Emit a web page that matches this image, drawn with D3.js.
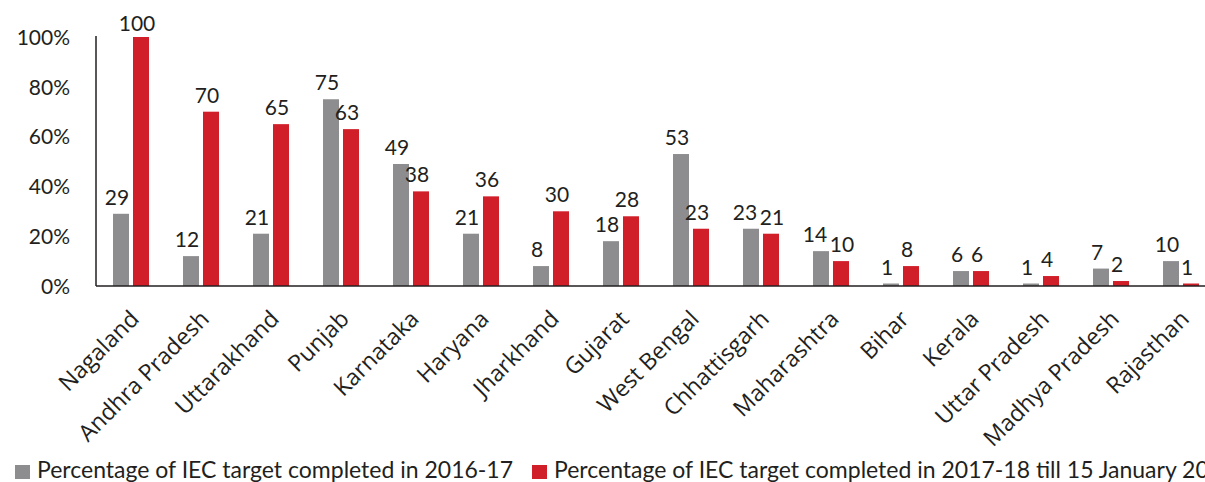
<!DOCTYPE html>
<html>
<head>
<meta charset="utf-8">
<script src="https://cdn.jsdelivr.net/npm/d3@7"></script>
<style>
  body { margin: 0; background: #fff; }
  text { font-family: Lato, "Open Sans", sans-serif; fill: #231f20; }
</style>
</head>
<body>
<svg id="chart"></svg>
<script>
// data
var states = ["Nagaland", "Andhra Pradesh", "Uttarakhand", "Punjab", "Karnataka", "Haryana",
    "Jharkhand", "Gujarat", "West Bengal", "Chhattisgarh", "Maharashtra", "Bihar",
    "Kerala", "Uttar Pradesh", "Madhya Pradesh", "Rajasthan"];
var done2016 = [29, 12, 21, 75, 49, 21, 8, 18, 53, 23, 14, 1, 6, 1, 7, 10];
var done2017 = [100, 70, 65, 63, 38, 36, 30, 28, 23, 21, 10, 8, 6, 4, 2, 1];
var yTicks = [0, 20, 40, 60, 80, 100];
var seriesNames = ["Percentage of IEC target completed in 2016-17",
    "Percentage of IEC target completed in 2017-18 till 15 January 2018"];
var colors = ["#8d8d8f", "#d11f2a"];

var width = 1205, height = 482;
var margin = {left: 96, top: 37, bottom: 286, right: 1216};

var svg = d3.select('#chart')
    .attr('width', width)
    .attr('height', height);

var x0 = d3.scaleBand().domain(states).range([margin.left, margin.right]).padding(0);
var x1 = d3.scaleBand().domain([0, 1]).range([17, 53]).paddingInner(0.2).paddingOuter(0);
var y = d3.scaleLinear().domain([0, 100]).range([margin.bottom, margin.top]);

// y axis labels
var yAxis = d3.axisLeft(y).tickValues(yTicks).tickSize(0).tickPadding(26)
    .tickFormat(function(d) { return d + '%'; });
var gy = svg.append('g')
    .attr('transform', 'translate(' + margin.left + ',0)')
    .call(yAxis);
gy.select('.domain').remove();
gy.selectAll('text').style('font-size', '21px').attr('dy', '0.35em');

// bars
var rows = states.map(function(s, i) { return {state: s, vals: [done2016[i], done2017[i]]}; });

var groups = svg.selectAll('.grp')
    .data(rows)
    .enter().append('g')
    .attr('class', 'grp')
    .attr('transform', function(d) { return 'translate(' + x0(d.state) + ',0)'; });

function labelData(d) {
    // labels sit a bit left of the bar centre; push apart when the pair would collide
    var close = Math.abs(y(d.vals[0]) - y(d.vals[1])) < 18 && d.vals[0] >= 10 && d.vals[1] >= 10;
    return d.vals.map(function(v, k) {
        var shift = close ? (k === 0 ? -6 : 1) : -4;
        return {k: k, v: v, shift: shift};
    });
}

groups.selectAll('rect')
    .data(function(d) { return d.vals.map(function(v, k) { return {k: k, v: v}; }); })
    .enter().append('rect')
    .attr('x', function(d) { return x1(d.k); })
    .attr('width', x1.bandwidth())
    .attr('y', function(d) { return y(d.v); })
    .attr('height', function(d) { return y(0) - y(d.v); })
    .attr('fill', function(d) { return colors[d.k]; });

groups.selectAll('.val')
    .data(labelData)
    .enter().append('text')
    .attr('class', 'val')
    .attr('x', function(d) { return x1(d.k) + x1.bandwidth() / 2 + d.shift; })
    .attr('y', function(d) { return Math.max(y(d.v) - 9, 31); })
    .attr('text-anchor', 'middle')
    .style('font-size', '21px')
    .text(function(d) { return d.v; });

// axis lines
svg.append('line')
    .attr('x1', margin.left).attr('x2', margin.left)
    .attr('y1', margin.top - 1).attr('y2', margin.bottom)
    .attr('stroke', '#231f20').attr('stroke-width', 1.5);
svg.append('line')
    .attr('x1', margin.left).attr('x2', margin.right)
    .attr('y1', margin.bottom).attr('y2', margin.bottom)
    .attr('stroke', '#231f20').attr('stroke-width', 1.5);

// rotated state names
svg.selectAll('.cat')
    .data(states)
    .enter().append('text')
    .attr('class', 'cat')
    .attr('text-anchor', 'end')
    .style('font-family', '"Open Sans", sans-serif')
    .style('font-size', '23px')
    .attr('transform', function(d) {
        return 'translate(' + (x0(d) + x0.bandwidth() / 2 - 2) + ',309) rotate(-45)';
    })
    .attr('dy', '0.7em')
    .text(function(d) { return d; });

// legend (second entry runs off the right edge, as in the source)
var legend = svg.append('g').attr('transform', 'translate(0,478)');
var legX = [15, 532];
seriesNames.forEach(function(name, i) {
    legend.append('rect')
        .attr('x', legX[i]).attr('y', -13)
        .attr('width', 15).attr('height', 14)
        .attr('fill', colors[i]);
    legend.append('text')
        .attr('x', legX[i] + 22).attr('y', 0)
        .style('font-size', '23px')
        .text(name);
});
</script>
</body>
</html>
